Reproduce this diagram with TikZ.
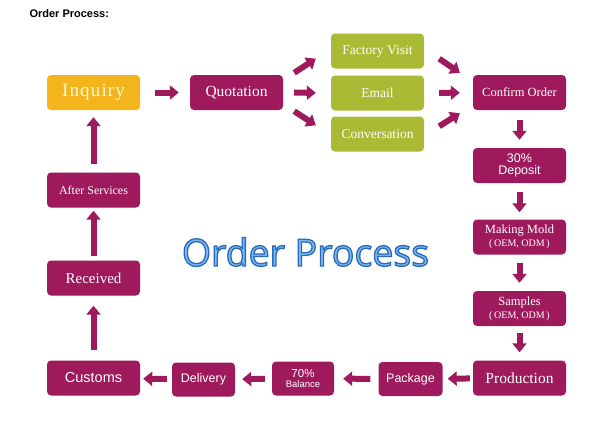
\documentclass[tikz,border=0pt]{standalone}
\usepackage{fontspec}
\setmainfont{Liberation Serif}
\setsansfont{Liberation Sans}
\newfontfamily\bigfont{Open Sans}
\usetikzlibrary{arrows.meta}

\definecolor{plum}{RGB}{158,26,92}
\definecolor{leaf}{RGB}{170,186,52}
\definecolor{amber}{RGB}{243,180,28}
\definecolor{cream}{RGB}{255,246,222}
\definecolor{skyblue}{RGB}{128,185,238}

\newcommand{\fs}[1]{\fontsize{#1}{1.1\dimexpr#1pt\relax}\selectfont}
% light letters with a dark blue rim
\newcommand{\rimmed}[1]{\special{pdf:literal direct 2 Tr 1.3 w 0.15 0.42 0.74 RG}#1\special{pdf:literal direct 0 Tr}}

\begin{document}
\begin{tikzpicture}[x=1pt,y=-1pt,
  box/.style={fill=plum, text=white, rounded corners=4pt, minimum width=93pt,
    minimum height=35pt, inner sep=0pt, align=center},
  smallbox/.style={box, minimum width=64pt, minimum height=34pt},
  greenbox/.style={box, fill=leaf},
  fat/.style={draw=plum, line width=6pt, -{Triangle[width=14pt,length=9pt]}}]

\fill[white] (0,0) rectangle (600,421);
\useasboundingbox (0,0) rectangle (600,421);

\node[anchor=west, font=\sffamily\bfseries\fs{11}] (title) at (26,14) {Order Process:};

% top row
\node[box, fill=amber, text=cream, font=\fs{19}\addfontfeature{LetterSpace=6}] (inquiry) at (93.5,92.5) {Inquiry};
\node[box, font=\fs{15.5}] (quotation) at (236.5,92.5) {Quotation};
\node[greenbox, font=\fs{13.5}] (factory) at (377.5,51) {Factory Visit};
\node[greenbox, font=\fs{13.5}] (email) at (377.5,93) {Email};
\node[greenbox, font=\fs{13.5}] (conversation) at (377.5,134) {Conversation};
\node[box, font=\fs{12.5}] (confirm) at (519.5,92.5) {Confirm Order};

% right column
\node[box, font=\sffamily\fs{12.5}] (deposit) at (519.5,165.5) {30\%\\[-2pt]Deposit};
\node[box, font=\fs{12.5}] (mold) at (519.5,237) {Making Mold\\[-1pt]{\fs{10}(\,OEM, ODM\,)}};
\node[box, font=\fs{12.5}] (samples) at (519.5,308.5) {Samples\\[-1pt]{\fs{10}(\,OEM, ODM\,)}};
\node[box, font=\fs{15.5}] (production) at (519.5,378) {Production};

% bottom row
\node[smallbox, font=\sffamily\fs{12.5}] (package) at (410.5,379) {Package};
\node[smallbox, minimum width=62pt, font=\sffamily\fs{11.5}] (balance) at (303,378.5) {70\%\\[-3pt]{\fs{9.5}Balance}};
\node[smallbox, minimum width=63pt, font=\sffamily\fs{12.5}] (delivery) at (203.5,379.5) {Delivery};
\node[box, font=\sffamily\fs{14.5}] (customs) at (93.5,378) {Customs};

% left column
\node[box, font=\fs{15}] (received) at (93.5,278) {Received};
\node[box, font=\fs{12}] (after) at (93.5,190) {After Services};

% big title
\node[anchor=base, text=skyblue, font=\bigfont\fs{37.5}] (headline) at (305.5,266) {\rimmed{Order Process}};

% arrows
\draw[fat, shorten <=15pt, shorten >=11pt] (inquiry) -- (quotation);
\draw[fat] ([shift={(11,-2)}]quotation.north east) -- ([shift={(-15,-10)}]factory.south west);
\draw[fat, shorten <=11pt, shorten >=15pt] (quotation) -- (email);
\draw[fat] ([shift={(11,1)}]quotation.south east) -- ([shift={(-15,9)}]conversation.north west);
\draw[fat] ([shift={(15,-10)}]factory.south east) -- ([shift={(-13,-2)}]confirm.north west);
\draw[fat, shorten <=15pt, shorten >=13pt] (email) -- (confirm);
\draw[fat] ([shift={(15,10)}]conversation.north east) -- ([shift={(-13,3)}]confirm.south west);

\draw[fat, shorten <=10pt, shorten >=8pt] (confirm) -- (deposit);
\draw[fat, shorten <=9pt, shorten >=7pt] (deposit) -- (mold);
\draw[fat, shorten <=8pt, shorten >=8pt] (mold) -- (samples);
\draw[fat, shorten <=7pt, shorten >=8pt] (samples) -- (production);

\draw[fat, shorten <=3pt, shorten >=5pt] (production) -- (package);
\draw[fat, shorten <=8pt, shorten >=9pt] (package) -- (balance);
\draw[fat, shorten <=7pt, shorten >=7pt] (balance) -- (delivery);
\draw[fat, shorten <=5pt, shorten >=3pt] (delivery) -- (customs);

\draw[fat, shorten <=10pt, shorten >=10pt] (customs) -- (received);
\draw[fat, shorten <=4pt, shorten >=3pt] (received) -- (after);
\draw[fat, shorten <=8pt, shorten >=7pt] (after) -- (inquiry);

\end{tikzpicture}
\end{document}
